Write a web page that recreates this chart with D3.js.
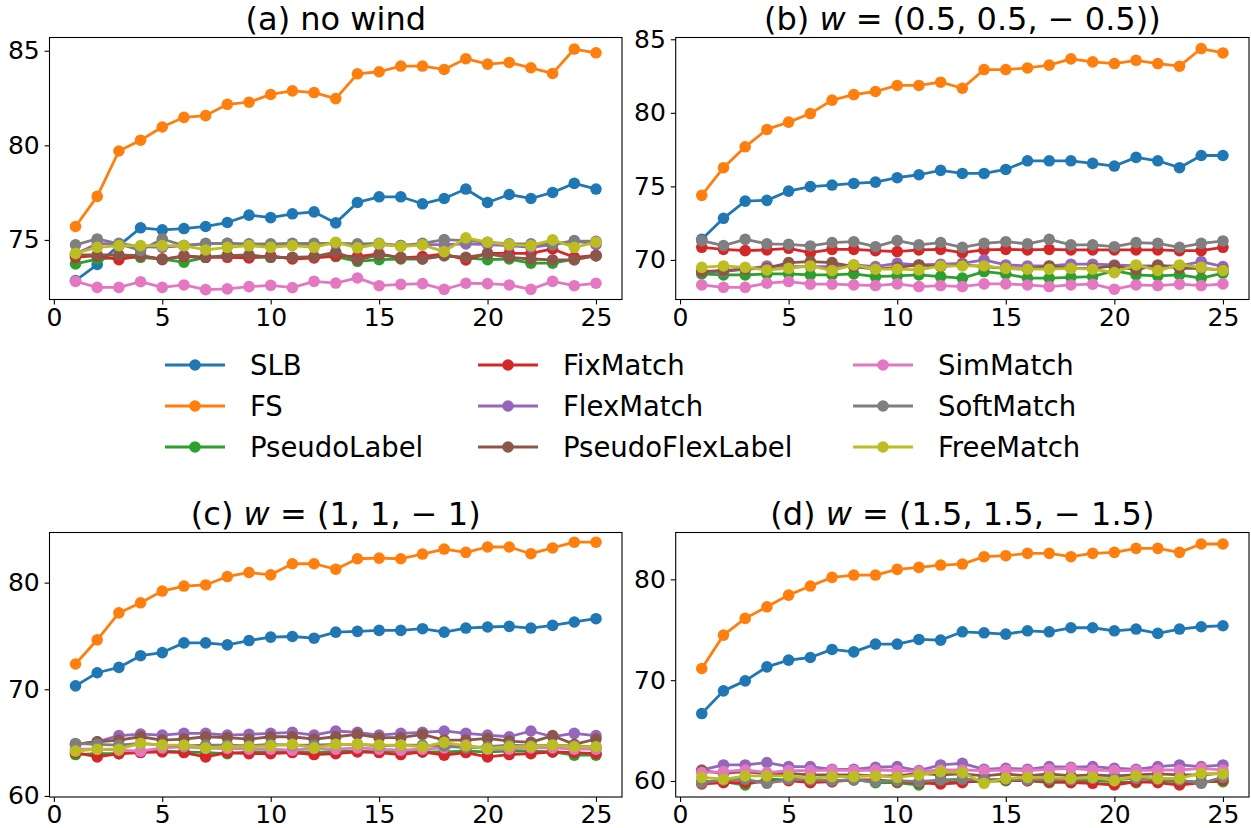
<!DOCTYPE html>
<html>
<head>
<meta charset="utf-8">
<script src="https://cdn.jsdelivr.net/npm/d3@7"></script>
<style>
  body { margin: 0; background: #ffffff; }
  svg { display: block; font-family: "DejaVu Sans", sans-serif; }
  text { white-space: pre; }
</style>
</head>
<body>
<svg id="chart" width="1251" height="828"></svg>
<script>
// Training epochs on the x axis
const epochs = [1,2,3,4,5,6,7,8,9,10,11,12,13,14,15,16,17,18,19,20,21,22,23,24,25];

// Methods, in plotting / legend order
const methods = ["SLB", "FS", "PseudoLabel", "FixMatch", "FlexMatch",
                 "PseudoFlexLabel", "SimMatch", "SoftMatch", "FreeMatch"];
const colors = ["#1f77b4", "#ff7f0e", "#2ca02c", "#d62728", "#9467bd",
                "#8c564b", "#e377c2", "#7f7f7f", "#bcbd22"];

// (a) no wind — one row per method, same order as `methods`
const noWind = [
  [72.85,73.70,74.70,75.64,75.53,75.60,75.71,75.92,76.31,76.18,76.38,76.48,75.90,76.98,77.28,77.28,76.91,77.19,77.69,76.98,77.40,77.19,77.51,77.99,77.69],
  [75.71,77.30,79.70,80.27,80.97,81.48,81.57,82.17,82.28,82.69,82.88,82.79,82.47,83.78,83.89,84.19,84.19,84.01,84.58,84.29,84.38,84.10,83.80,85.09,84.89],
  [73.73,73.99,74.08,74.08,73.99,73.82,74.08,74.17,74.08,74.08,74.05,74.08,74.12,73.87,73.96,73.99,73.99,74.17,74.05,73.96,73.99,73.77,73.77,73.99,74.17],
  [74.08,74.17,73.96,74.17,73.99,74.12,74.08,74.08,74.05,74.17,73.99,74.05,74.17,74.12,74.26,74.05,74.12,74.26,73.94,74.29,74.29,74.29,74.52,74.08,74.17],
  [74.26,74.79,74.82,74.65,74.61,74.70,74.79,74.82,74.75,74.75,74.79,74.75,74.82,74.75,74.75,74.70,74.75,74.75,74.79,74.75,74.70,74.61,74.75,74.96,74.75],
  [74.21,74.21,74.21,74.17,73.96,74.17,74.08,74.17,74.21,74.08,74.08,74.12,74.35,73.94,74.21,74.08,73.99,74.17,74.08,74.26,74.08,73.99,73.94,73.94,74.17],
  [72.81,72.49,72.49,72.79,72.49,72.62,72.37,72.41,72.53,72.60,72.48,72.81,72.72,72.99,72.58,72.65,72.69,72.39,72.71,72.69,72.62,72.39,72.81,72.58,72.71],
  [74.74,75.05,74.79,74.44,75.05,74.70,74.82,74.82,74.79,74.79,74.82,74.82,74.82,74.79,74.82,74.70,74.82,75.02,74.96,74.88,74.79,74.79,74.75,74.93,74.93],
  [74.29,74.61,74.70,74.70,74.70,74.70,74.47,74.61,74.70,74.61,74.70,74.61,74.88,74.58,74.79,74.65,74.74,74.38,75.11,74.88,74.75,74.70,75.00,74.61,74.88]
];

// (b) w = (0.5, 0.5, -0.5)
const wind05 = [
  [71.40,72.83,74.00,74.05,74.68,74.98,75.09,75.20,75.29,75.59,75.79,76.09,75.88,75.88,76.15,76.74,76.74,76.74,76.56,76.38,76.97,76.74,76.27,77.10,77.10],
  [74.39,76.27,77.69,78.87,79.37,79.95,80.86,81.24,81.45,81.86,81.86,82.08,81.67,82.94,82.94,83.05,83.24,83.67,83.46,83.35,83.57,83.35,83.17,84.37,84.07],
  [69.05,68.98,68.98,69.05,69.05,68.98,68.98,69.05,68.87,68.91,68.98,68.87,68.76,69.21,69.05,68.76,68.76,68.82,68.87,69.28,68.98,68.91,68.98,68.76,69.10],
  [70.86,70.72,70.63,70.68,70.79,70.50,70.72,70.72,70.63,70.57,70.68,70.72,70.50,70.68,70.72,70.68,70.72,70.68,70.68,70.68,70.68,70.68,70.63,70.63,70.86],
  [69.21,69.21,69.37,69.59,69.55,69.55,69.55,69.66,69.55,69.77,69.66,69.71,69.77,70.00,69.66,69.59,69.59,69.71,69.71,69.66,69.59,69.59,69.59,69.89,69.55],
  [69.21,69.28,69.37,69.43,69.82,69.89,69.82,69.55,69.37,69.50,69.66,69.55,69.66,69.55,69.43,69.37,69.59,69.43,69.43,69.59,69.32,69.66,69.43,69.43,69.32],
  [68.30,68.14,68.14,68.42,68.53,68.35,68.35,68.30,68.26,68.37,68.19,68.26,68.19,68.37,68.37,68.30,68.19,68.30,68.35,68.01,68.30,68.26,68.35,68.26,68.37],
  [71.31,70.97,71.40,71.09,71.06,70.95,71.18,71.24,70.90,71.31,71.02,71.18,70.86,71.13,71.24,71.09,71.40,71.02,71.02,70.90,71.18,71.13,70.86,71.13,71.29],
  [69.50,69.59,69.50,69.32,69.43,69.59,69.28,69.66,69.37,69.37,69.32,69.59,69.59,69.59,69.43,69.37,69.37,69.43,69.37,69.14,69.66,69.28,69.66,69.50,69.28]
];

// (c) w = (1, 1, -1)
const wind10 = [
  [70.32,71.55,72.05,73.15,73.44,74.35,74.35,74.16,74.57,74.89,74.95,74.79,75.36,75.43,75.52,75.52,75.68,75.36,75.74,75.84,75.90,75.74,75.99,76.31,76.62],
  [72.37,74.64,77.16,78.11,79.21,79.68,79.78,80.57,80.95,80.73,81.77,81.77,81.26,82.24,82.30,82.24,82.68,83.15,82.84,83.34,83.34,82.71,83.25,83.79,83.79],
  [63.88,63.97,63.97,64.13,64.20,64.13,64.07,63.97,64.13,64.13,64.20,64.07,64.20,64.20,64.13,64.20,64.13,64.13,64.20,64.13,64.20,64.20,64.13,63.82,63.82],
  [64.07,63.66,63.97,64.07,64.13,64.07,63.66,64.07,63.97,63.97,64.07,63.88,63.97,64.13,64.07,63.88,64.13,63.82,64.07,63.66,63.88,63.97,64.13,64.07,63.97],
  [64.83,65.08,65.65,65.80,65.71,65.87,65.87,65.71,65.77,65.87,65.96,65.71,66.09,65.96,65.71,65.87,65.96,66.09,65.87,65.71,65.55,66.09,65.55,65.87,65.65],
  [64.83,65.08,65.24,65.55,65.24,65.33,65.55,65.46,65.33,65.55,65.55,65.33,65.55,65.77,65.46,65.46,65.77,65.24,65.24,65.39,65.14,65.02,65.65,64.83,65.33],
  [64.38,64.38,64.29,64.20,64.51,64.61,64.45,64.45,64.38,64.38,64.29,64.45,64.38,64.51,64.38,64.29,64.38,64.51,64.76,64.38,64.38,64.51,64.51,64.38,64.38],
  [64.92,64.83,64.76,64.92,64.76,64.70,64.76,64.76,64.70,64.83,64.76,64.76,64.83,64.83,64.70,64.76,64.76,64.70,64.51,64.61,64.76,64.70,64.76,64.70,64.61],
  [64.20,64.38,64.38,64.92,64.76,64.76,64.51,64.61,64.61,64.70,64.83,64.51,64.83,64.83,64.76,64.76,64.61,65.02,64.70,64.45,64.61,64.61,64.76,64.61,64.61]
];

// (d) w = (1.5, 1.5, -1.5)
const wind15 = [
  [66.69,68.94,69.93,71.32,71.99,72.25,73.05,72.81,73.58,73.58,74.04,73.97,74.80,74.70,74.57,74.90,74.80,75.20,75.20,74.90,75.07,74.64,75.07,75.30,75.40],
  [71.16,74.47,76.13,77.28,78.44,79.34,80.20,80.43,80.43,80.99,81.19,81.42,81.52,82.25,82.35,82.58,82.58,82.25,82.58,82.68,83.08,83.08,82.68,83.51,83.51],
  [59.93,59.93,59.60,60.17,60.10,59.93,59.93,60.17,59.83,59.83,59.60,60.10,59.93,59.93,60.03,60.03,59.83,59.93,60.03,59.93,59.83,60.03,59.93,59.93,59.93],
  [59.70,59.83,59.83,59.93,60.03,59.83,59.93,60.10,60.10,59.93,59.83,59.70,59.83,60.10,60.10,60.03,59.93,59.83,59.77,59.60,59.93,59.83,59.60,59.83,60.10],
  [61.09,61.59,61.59,61.82,61.42,61.42,61.16,61.16,61.36,61.42,61.03,61.59,61.75,61.16,61.26,61.16,61.42,61.36,61.42,61.26,61.16,61.42,61.59,61.42,61.59],
  [61.03,60.76,60.93,60.70,60.76,60.60,60.60,60.60,60.50,60.50,60.76,60.60,60.70,60.50,60.70,60.50,60.70,60.50,60.60,60.50,60.60,60.70,60.60,60.60,60.76],
  [60.83,60.93,61.09,60.83,61.03,61.03,61.09,61.03,61.09,61.03,60.93,61.09,61.09,61.03,61.09,61.03,61.16,61.26,61.09,61.03,61.03,61.09,61.09,61.26,61.09],
  [59.83,60.10,60.17,59.77,60.17,60.10,60.03,60.10,59.93,60.03,59.93,60.10,60.17,60.10,60.17,60.10,60.17,60.10,60.26,60.17,60.26,60.17,60.10,59.77,60.36],
  [60.36,60.17,60.50,60.50,60.50,60.26,60.43,60.43,60.50,60.36,60.60,60.93,60.83,59.77,60.26,60.36,60.36,60.26,60.36,60.03,60.50,60.26,60.26,60.76,60.70]
];

// Tick labels
const xTicks = [0, 5, 10, 15, 20, 25];
const yTicksA = [75, 80, 85];
const yTicksB = [70, 75, 80, 85];
const yTicksC = [60, 70, 80];
const yTicksD = [60, 70, 80];

// Panel titles (pieces flagged `it` are set in italic, like math text)
const titleA = [{ s: "(a) no wind" }];
const titleB = [{ s: "(b) " }, { s: "w", it: true }, { s: " = (0.5, 0.5, \u2212 0.5))" }];
const titleC = [{ s: "(c) " }, { s: "w", it: true }, { s: " = (1, 1, \u2212 1)" }];
const titleD = [{ s: "(d) " }, { s: "w", it: true }, { s: " = (1.5, 1.5, \u2212 1.5)" }];

const svg = d3.select("#chart");

const panels = [
  { data: noWind, yTicks: yTicksA, title: titleA, yDom: [71.85, 85.70], l: 49.5, r: 622,  t: 37.5, b: 299.5 },
  { data: wind05, yTicks: yTicksB, title: titleB, yDom: [67.31, 85.12], l: 675.7, r: 1249, t: 37.5, b: 299.5 },
  { data: wind10, yTicks: yTicksC, title: titleC, yDom: [59.90, 84.70], l: 49.5, r: 622,  t: 532.5, b: 797 },
  { data: wind15, yTicks: yTicksD, title: titleD, yDom: [58.41, 84.65], l: 675.7, r: 1249, t: 532.5, b: 797 }
];

const lineW = 2.8, markR = 5.8, tickFont = 25;

panels.forEach(p => {
  const x = d3.scaleLinear().domain([-0.2, 26.2]).range([p.l, p.r]);
  const y = d3.scaleLinear().domain(p.yDom).range([p.b, p.t]);
  const g = svg.append("g");

  // series: line + circle markers, later methods drawn on top
  const line = d3.line().x((d, i) => x(epochs[i])).y(d => y(d));
  p.data.forEach((vals, k) => {
    const s = g.append("g");
    s.append("path").attr("d", line(vals))
      .attr("fill", "none").attr("stroke", colors[k])
      .attr("stroke-width", lineW).attr("stroke-linejoin", "round").attr("stroke-linecap", "square");
    s.selectAll("circle").data(vals).join("circle")
      .attr("cx", (d, i) => x(epochs[i])).attr("cy", d => y(d))
      .attr("r", markR).attr("fill", colors[k]);
  });

  // axes
  const xa = g.append("g").attr("transform", `translate(0,${p.b})`)
    .call(d3.axisBottom(x).tickValues(xTicks).tickSize(4.9).tickSizeOuter(0).tickPadding(3.4));
  const ya = g.append("g").attr("transform", `translate(${p.l},0)`)
    .call(d3.axisLeft(y).tickValues(p.yTicks).tickSize(4.9).tickSizeOuter(0).tickPadding(4.9));
  [xa, ya].forEach(a => {
    a.select(".domain").remove();
    a.selectAll("line").attr("stroke", "#000").attr("stroke-width", 1.1);
    a.selectAll("text").attr("fill", "#000").style("font-size", tickFont + "px")
      .style("font-family", "'DejaVu Sans', sans-serif");
  });

  // frame
  g.append("rect").attr("x", p.l).attr("y", p.t)
    .attr("width", p.r - p.l).attr("height", p.b - p.t)
    .attr("fill", "none").attr("stroke", "#000").attr("stroke-width", 1.1);

  // title
  const tt = g.append("text").attr("x", (p.l + p.r) / 2).attr("y", p.t - 7.5)
    .attr("text-anchor", "middle").style("font-size", "32px").attr("fill", "#000");
  p.title.forEach(part => {
    tt.append("tspan").text(part.s).style("font-style", part.it ? "italic" : "normal");
  });
});

// legend: three columns, three rows, filled column by column
const legCols = [165, 478, 853];
const legRows = [365, 406, 447];
const lg = svg.append("g");
methods.forEach((m, k) => {
  const cx = legCols[Math.floor(k / 3)], cy = legRows[k % 3];
  const e = lg.append("g");
  e.append("line").attr("x1", cx).attr("x2", cx + 60).attr("y1", cy).attr("y2", cy)
    .attr("stroke", colors[k]).attr("stroke-width", lineW);
  e.append("circle").attr("cx", cx + 30).attr("cy", cy).attr("r", markR).attr("fill", colors[k]);
  e.append("text").attr("x", cx + 85).attr("y", cy).attr("dy", "0.35em")
    .style("font-size", "27.5px").attr("fill", "#000").text(m);
});
</script>
</body>
</html>
